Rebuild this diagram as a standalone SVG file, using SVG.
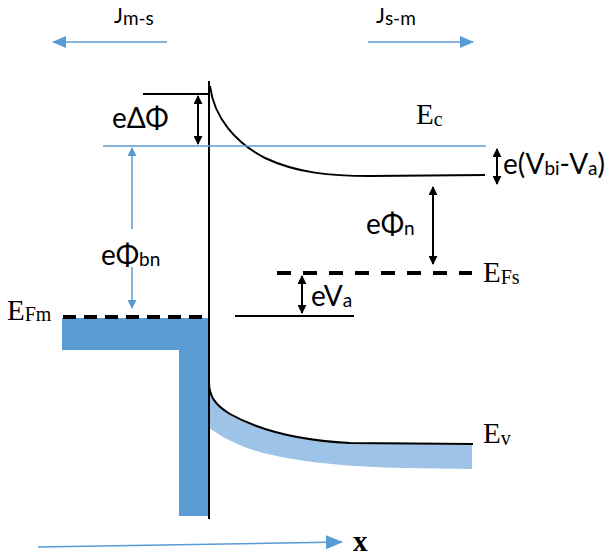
<svg xmlns="http://www.w3.org/2000/svg" width="615" height="559" viewBox="0 0 615 559">
<defs>
<style>
.blk{stroke:#000;stroke-width:2;fill:none}
.blu{stroke:#5b9bd5;stroke-width:1.5;fill:none}
.dash{stroke:#000;stroke-width:4;fill:none}
.lbl{font-family:Lato,"Liberation Sans",sans-serif;font-size:28px;fill:#000}
.sub{font-size:19px}
.jl{font-family:Lato,"Liberation Sans",sans-serif;font-size:21px;fill:#000}
.ser{font-family:"Liberation Serif","Times New Roman",serif;font-size:29px;fill:#000}
.ssub{font-size:20px}
</style>
<marker id="ab" viewBox="0 0 10 10" refX="9" refY="5" markerWidth="9" markerHeight="9" markerUnits="userSpaceOnUse" orient="auto-start-reverse"><path d="M0,0 L10,5 L0,10 z" fill="#000"/></marker>
<marker id="au" viewBox="0 0 14 12" refX="13" refY="6" markerWidth="14" markerHeight="12" markerUnits="userSpaceOnUse" orient="auto-start-reverse"><path d="M0,0 L14,6 L0,12 z" fill="#5b9bd5"/></marker>
<marker id="as" viewBox="0 0 10 10" refX="9" refY="5" markerWidth="9" markerHeight="9" markerUnits="userSpaceOnUse" orient="auto-start-reverse"><path d="M0,0 L10,5 L0,10 z" fill="#5b9bd5"/></marker>
<marker id="ax" viewBox="0 0 17 14" refX="16" refY="7" markerWidth="17" markerHeight="14" markerUnits="userSpaceOnUse" orient="auto"><path d="M0,0 L17,7 L0,14 z" fill="#5b9bd5"/></marker>
</defs>

<g id="metal">
<polygon points="62,318 208,318 208,516 179,516 179,350 62,350" fill="#5b9bd5"/>
</g>

<g id="valence-band">
<path d="M209,385 C210,398 216,406 232,415 C258,429 292,441 350,443 L472,445 L472,469 L405,468 C350,467 290,462 250,449 C230,442 218,434 209,428 Z" fill="#9dc3e6"/>
<path class="blk" d="M209,382 C209,396 215,405 230,414 C255,428 290,440 350,443 L473,444"/>
</g>

<g id="conduction-band">
<path class="blk" d="M210,86 C214,118 236,143 265,158 C297,173 330,176 370,176 L485,175"/>
<line class="blk" x1="143" y1="94" x2="209" y2="94"/>
</g>

<g id="interface">
<line class="blk" x1="209" y1="81" x2="209" y2="519"/>
</g>

<g id="levels">
<line class="blu" x1="103" y1="146" x2="486" y2="146" stroke-width="1.2"/>
<line class="dash" x1="63" y1="317" x2="209" y2="317" stroke-dasharray="13 8"/>
<line class="dash" x1="277" y1="273" x2="472" y2="273" stroke-dasharray="14 12"/>
<line class="blk" x1="235" y1="316" x2="354" y2="316"/>
</g>

<g id="connectors">
<line class="blu" x1="167" y1="42" x2="53" y2="42" marker-end="url(#au)"/>
<line class="blu" x1="368" y1="42" x2="473" y2="42" marker-end="url(#au)"/>
<line class="blu" x1="38" y1="547" x2="342" y2="542" marker-end="url(#ax)"/>
<line class="blu" x1="132" y1="229" x2="132" y2="148" stroke-width="1.2" marker-end="url(#as)"/>
<line class="blu" x1="132" y1="267" x2="132" y2="308" stroke-width="1.2" marker-end="url(#as)"/>
<line class="blk" x1="198" y1="96" x2="198" y2="144" marker-start="url(#ab)" marker-end="url(#ab)"/>
<line class="blk" x1="497" y1="149" x2="497" y2="184" marker-start="url(#ab)" marker-end="url(#ab)"/>
<line class="blk" x1="433" y1="187" x2="433" y2="264" marker-start="url(#ab)" marker-end="url(#ab)"/>
<line class="blk" x1="302" y1="276" x2="302" y2="313" marker-start="url(#ab)" marker-end="url(#ab)"/>
</g>

<g id="labels">
<text class="jl" x="114" y="23">J<tspan font-size="19" dy="2">m-s</tspan></text>
<text class="jl" x="376" y="23">J<tspan font-size="19" dy="2">s-m</tspan></text>
<text class="lbl" x="112" y="128" font-size="31">eΔΦ</text>
<text class="lbl" x="101" y="265">eΦ<tspan class="sub" dy="1">bn</tspan></text>
<text class="lbl" x="366" y="234">eΦ<tspan class="sub" dy="1">n</tspan></text>
<text class="lbl" x="311" y="306">eV<tspan class="sub" dy="1">a</tspan></text>
<text class="lbl" x="503" y="174" font-size="30">e(V<tspan class="sub" font-size="20" dy="1">bi</tspan><tspan dy="-1">-V</tspan><tspan class="sub" font-size="20" dy="1">a</tspan><tspan dy="-1">)</tspan></text>
<text class="ser" x="416" y="124">E<tspan class="ssub" dy="2">c</tspan></text>
<text class="ser" x="7" y="320">E<tspan class="ssub" dy="1">Fm</tspan></text>
<text class="ser" x="483" y="282">E<tspan class="ssub" dy="2">Fs</tspan></text>
<text class="ser" x="483" y="443">E<tspan class="ssub" dy="2">v</tspan></text>
<text x="353" y="551" font-family="'Liberation Serif','Times New Roman',serif" font-size="29" font-weight="bold" fill="#000">x</text>
</g>
</svg>
